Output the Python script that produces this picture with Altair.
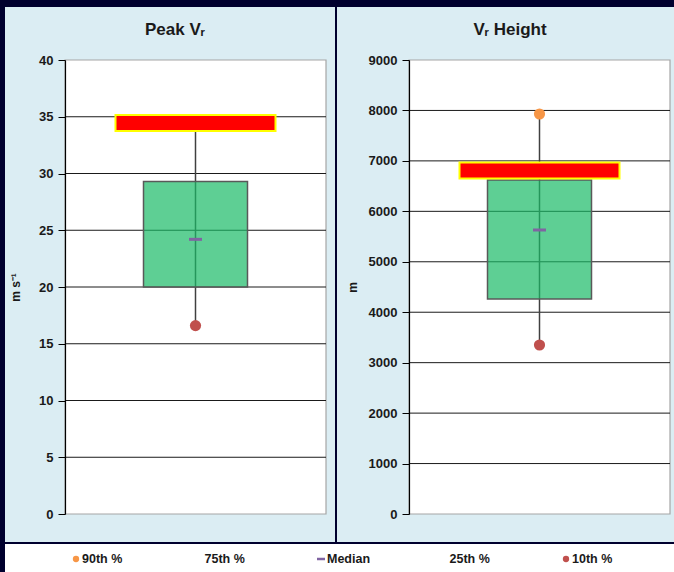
import altair as alt
import pandas as pd

# ---- data ----
stat_names = ["p10", "p25", "median", "p75", "p90", "obs"]
peak_vr = [16.6, 20.0, 24.2, 29.3, 34.2, 34.45]        # m s-1
vr_height = [3350, 4260, 5630, 6620, 7930, 6810]      # m

peak_ticks = [0, 5, 10, 15, 20, 25, 30, 35, 40]
height_ticks = [0, 1000, 2000, 3000, 4000, 5000, 6000, 7000, 8000, 9000]

legend_labels = ["90th %", "75th %", "Median", "25th %", "10th %"]
legend_kind = ["dot", "none", "dash", "none", "dot"]
legend_colors = ["#f79646", "#ffffff", "#8064a2", "#ffffff", "#c0504d"]

NAVY = "#00002e"
PANEL = "#dbedf3"
FONT = "Liberation Sans"
TXT = "#1a1a1a"
W, H = 261, 454          # each plot area
X2 = 344                 # left edge of the second plot area (relative)
TOTAL_W = 609


def panel(values, ticks, name, ytitle, x0, title_pad):
    row = dict(zip(stat_names, values))
    row["cat"] = name
    df = pd.DataFrame([row])
    tick_df = pd.DataFrame({"v": ticks})
    dom = [ticks[0], ticks[-1]]
    yscale = alt.Scale(domain=dom, nice=False, zero=True)
    xenc = alt.X("cat:N", axis=None, scale=alt.Scale(type="point", range=[x0, x0 + W]))

    grid = alt.Chart(tick_df).transform_filter(
        (alt.datum.v > dom[0]) & (alt.datum.v < dom[1])
    ).mark_rule(color=TXT, strokeWidth=1).encode(
        x=alt.value(x0), x2=alt.value(x0 + W),
        y=alt.Y("v:Q", scale=yscale,
                axis=alt.Axis(values=ticks, grid=False, zindex=1, title=ytitle,
                              orient="left", offset=-x0, format="d",
                              domainColor="#000000", domainWidth=1.2,
                              tickColor="#000000", tickSize=7, tickWidth=1,
                              labelPadding=5, labelFont=FONT, labelFontSize=13,
                              labelFontWeight="bold", labelColor=TXT,
                              titleFont=FONT, titleFontSize=12, titleFontWeight="bold",
                              titleColor=TXT, titlePadding=title_pad)))
    whisker = alt.Chart(df).mark_rule(color="#404040", strokeWidth=1.5).encode(
        x=xenc, y=alt.Y("p10:Q", scale=yscale), y2="p90:Q")
    box = alt.Chart(df).mark_bar(size=104, fill="#1aba66", fillOpacity=0.7,
                                 stroke="#595959", strokeWidth=1.5).encode(
        x=xenc, y=alt.Y("p25:Q", scale=yscale), y2="p75:Q")
    p90 = alt.Chart(df).mark_circle(size=125, color="#f79646", opacity=1).encode(
        x=xenc, y=alt.Y("p90:Q", scale=yscale))
    p10 = alt.Chart(df).mark_circle(size=125, color="#c0504d", opacity=1).encode(
        x=xenc, y=alt.Y("p10:Q", scale=yscale))
    obs = alt.Chart(df).mark_tick(orient="horizontal", size=160, thickness=16,
                                  fill="#ff0000", stroke="#ffff00", strokeWidth=2,
                                  opacity=1).encode(
        x=xenc, y=alt.Y("obs:Q", scale=yscale))
    med = alt.Chart(df).mark_tick(orient="horizontal", size=13, thickness=3,
                                  color="#8064a2", opacity=1).encode(
        x=xenc, y=alt.Y("median:Q", scale=yscale))
    return alt.layer(grid, whisker, box, p90, p10, obs, med)


left = panel(peak_vr, peak_ticks, "Peak", "m s⁻¹", 0, 16)
right = panel(vr_height, height_ticks, "Height", "m", X2, 9)

# ---- frame decoration (panel backgrounds, plot areas, titles, legend box) ----
deco_df = pd.DataFrame({"k": [0]})
base = alt.Chart(deco_df)
deco = alt.layer(
    base.mark_rect(fill=PANEL, strokeWidth=0).encode(
        x=alt.value(-60), x2=alt.value(270), y=alt.value(-53), y2=alt.value(482)),
    base.mark_rect(fill=PANEL, strokeWidth=0).encode(
        x=alt.value(272), x2=alt.value(TOTAL_W), y=alt.value(-53), y2=alt.value(482)),
    base.mark_rect(fill="white", stroke="#a6a6a6", strokeWidth=1.2).encode(
        x=alt.value(0), x2=alt.value(W), y=alt.value(0), y2=alt.value(H)),
    base.mark_rect(fill="white", stroke="#a6a6a6", strokeWidth=1.2).encode(
        x=alt.value(X2), x2=alt.value(X2 + W), y=alt.value(0), y2=alt.value(H)),
    base.mark_rect(fill="white", strokeWidth=0).encode(
        x=alt.value(-60), x2=alt.value(TOTAL_W), y=alt.value(484), y2=alt.value(512)),
    base.mark_text(text="Peak  Vᵣ", font=FONT, fontSize=17, fontWeight="bold", color=TXT,
                   align="center", baseline="middle").encode(
        x=alt.value(110), y=alt.value(-30)),
    base.mark_text(text="Vᵣ  Height", font=FONT, fontSize=17, fontWeight="bold", color=TXT,
                   align="center", baseline="middle").encode(
        x=alt.value(445), y=alt.value(-30)),
)

# ---- legend ----
leg_df = pd.DataFrame({"label": legend_labels, "kind": legend_kind, "color": legend_colors})
lx = alt.X("label:N", sort=legend_labels, axis=None,
           scale=alt.Scale(type="point", range=[11, 501], padding=0))
leg_dot = alt.Chart(leg_df).transform_filter(alt.datum.kind == "dot").mark_circle(
    size=40, opacity=1).encode(x=lx, y=alt.value(499),
                               color=alt.Color("color:N", scale=None))
leg_dash = alt.Chart(leg_df).transform_filter(alt.datum.kind == "dash").mark_point(
    shape="M-1,0L1,0", size=64, strokeWidth=2.5, filled=False, opacity=1).encode(
    x=lx, y=alt.value(499), color=alt.Color("color:N", scale=None))
leg_txt = alt.Chart(leg_df).mark_text(
    align="left", baseline="middle", dx=6, font=FONT,
    fontSize=12.5, fontWeight="bold", color=TXT).encode(
    x=lx, y=alt.value(499), text="label:N")
legend = alt.layer(leg_dot, leg_dash, leg_txt)

chart = alt.layer(deco, left, right, legend).resolve_scale(
    x="independent", y="independent"
).properties(
    width=TOTAL_W, height=H,
    background=NAVY,
    padding={"left": 65, "top": 60, "right": 0, "bottom": 58},
    autosize=alt.AutoSizeParams(type="none"),
).configure_view(stroke=None, fill=None)

chart.save("out.html", embed_options={"renderer": "svg", "actions": False})
